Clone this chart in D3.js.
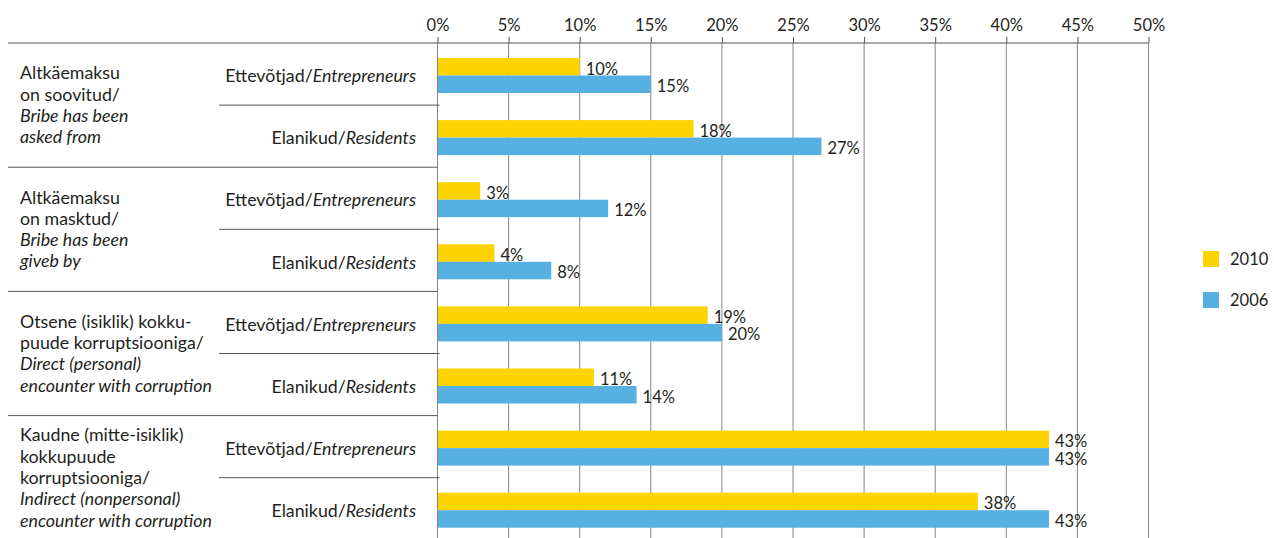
<!DOCTYPE html>
<html>
<head>
<meta charset="utf-8">
<script src="https://cdn.jsdelivr.net/npm/d3@7"></script>
<style>
  body { margin: 0; background: #fff; }
  text { font-family: Lato, "Open Sans", sans-serif; fill: #231f20; }
</style>
</head>
<body>
<script>
const width = 1274;
const height = 538;

// data
const groups = [
  [["Altkäemaksu", false], ["on soovitud/", false], ["Bribe has been", true], ["asked from", true]],
  [["Altkäemaksu", false], ["on masktud/", false], ["Bribe has been", true], ["giveb by", true]],
  [["Otsene (isiklik) kokku-", false], ["puude korruptsiooniga/", false], ["Direct (personal)", true], ["encounter with corruption", true]],
  [["Kaudne (mitte-isiklik)", false], ["kokkupuude", false], ["korruptsiooniga/", false], ["Indirect (nonpersonal)", true], ["encounter with corruption", true]]
];
const subgroups = [["Ettevõtjad/", "Entrepreneurs"], ["Elanikud/", "Residents"]];
const series = ["2010", "2006"];
const colors = ["#fdd300", "#56b0e2"];
const values2010 = [10, 18, 3, 4, 19, 11, 43, 38];
const values2006 = [15, 27, 12, 8, 20, 14, 43, 43];
const ticks = [0, 5, 10, 15, 20, 25, 30, 35, 40, 45, 50];

const svg = d3.select("body")
  .append("svg")
  .attr("width", width)
  .attr("height", height);

const topY = 43;
const rowH = 62.1;
const rows = d3.range(groups.length * subgroups.length);

const x = d3.scaleLinear().domain([0, 50]).range([437.5, 1148.5]);
const y = d3.scaleBand().domain(rows).range([topY, topY + rows.length * rowH]);
const ySeries = d3.scaleBand().domain(series).range([15, 50]);
const yGroup = d3.scaleBand().domain(d3.range(groups.length)).range([topY, topY + rows.length * rowH]);

// vertical grid
svg.append("g")
  .selectAll("line")
  .data(ticks)
  .join("line")
  .attr("x1", d => x(d)).attr("x2", d => x(d))
  .attr("y1", topY).attr("y2", height)
  .attr("stroke", "#858585")
  .attr("stroke-width", 1);

// top axis
const xAxis = d3.axisTop(x).tickValues(ticks).tickSize(6).tickPadding(8).tickFormat(d => d + "%");
const ax = svg.append("g")
  .attr("transform", "translate(0," + topY + ")")
  .call(xAxis);
ax.select(".domain").remove();
ax.selectAll(".tick line").attr("stroke", "#555");
ax.selectAll(".tick text").style("font-size", "16.5px").attr("fill", "#231f20").attr("dy", "0.1em");

svg.append("line")
  .attr("x1", 8).attr("x2", x(50))
  .attr("y1", topY).attr("y2", topY)
  .attr("stroke", "#555");

// group separators
svg.append("g")
  .selectAll("line")
  .data(d3.range(1, groups.length))
  .join("line")
  .attr("x1", 8).attr("x2", x(0))
  .attr("y1", d => yGroup(d)).attr("y2", d => yGroup(d))
  .attr("stroke", "#555");

// subgroup separators
svg.append("g")
  .selectAll("line")
  .data(d3.range(groups.length))
  .join("line")
  .attr("x1", 219).attr("x2", x(0) + 2)
  .attr("y1", d => y(d * 2 + 1)).attr("y2", d => y(d * 2 + 1))
  .attr("stroke", "#555");

// bars
const bars = svg.append("g");
[values2010, values2006].forEach((vals, si) => {
  bars.append("g")
    .selectAll("rect")
    .data(vals)
    .join("rect")
    .attr("x", x(0) + 0.5)
    .attr("y", (d, i) => y(i) + ySeries(series[si]))
    .attr("width", d => x(d) - x(0) - 0.5)
    .attr("height", ySeries.bandwidth())
    .attr("fill", colors[si]);

  bars.append("g")
    .selectAll("text")
    .data(vals)
    .join("text")
    .attr("x", d => x(d) + 6)
    .attr("y", (d, i) => y(i) + ySeries(series[si]) + ySeries.bandwidth() / 2 + 2)
    .attr("dy", "0.35em")
    .style("font-size", "16.5px")
    .text(d => d + "%");
});

// subgroup labels
svg.append("g")
  .selectAll("text")
  .data(rows)
  .join("text")
  .attr("x", 416)
  .attr("y", d => y(d) + rowH / 2 + 2)
  .attr("dy", "0.35em")
  .attr("text-anchor", "end")
  .style("font-size", "17.8px")
  .each(function (d) {
    const s = subgroups[d % 2];
    d3.select(this).append("tspan").text(s[0]);
    d3.select(this).append("tspan").style("font-style", "italic").text(s[1]);
  });

// group labels
const lineH = 21.3;
svg.append("g")
  .selectAll("text")
  .data(groups)
  .join("text")
  .attr("x", 20)
  .style("font-size", "17.8px")
  .each(function (lines, gi) {
    const mid = yGroup(gi) + yGroup.bandwidth() / 2;
    const y0 = mid - (lines.length - 1) * lineH / 2;
    d3.select(this).selectAll("tspan")
      .data(lines)
      .join("tspan")
      .attr("x", 20)
      .attr("y", (l, i) => y0 + i * lineH)
      .attr("dy", "0.35em")
      .style("font-style", l => l[1] ? "italic" : "normal")
      .text(l => l[0]);
  });

// legend
const legend = svg.append("g")
  .selectAll("g")
  .data(series)
  .join("g")
  .attr("transform", (d, i) => "translate(1203," + (251 + i * 41) + ")");
legend.append("rect")
  .attr("width", 16).attr("height", 16)
  .attr("fill", (d, i) => colors[i]);
legend.append("text")
  .attr("x", 27).attr("y", 8).attr("dy", "0.35em")
  .style("font-size", "16.5px")
  .text(d => d);
</script>
</body>
</html>
